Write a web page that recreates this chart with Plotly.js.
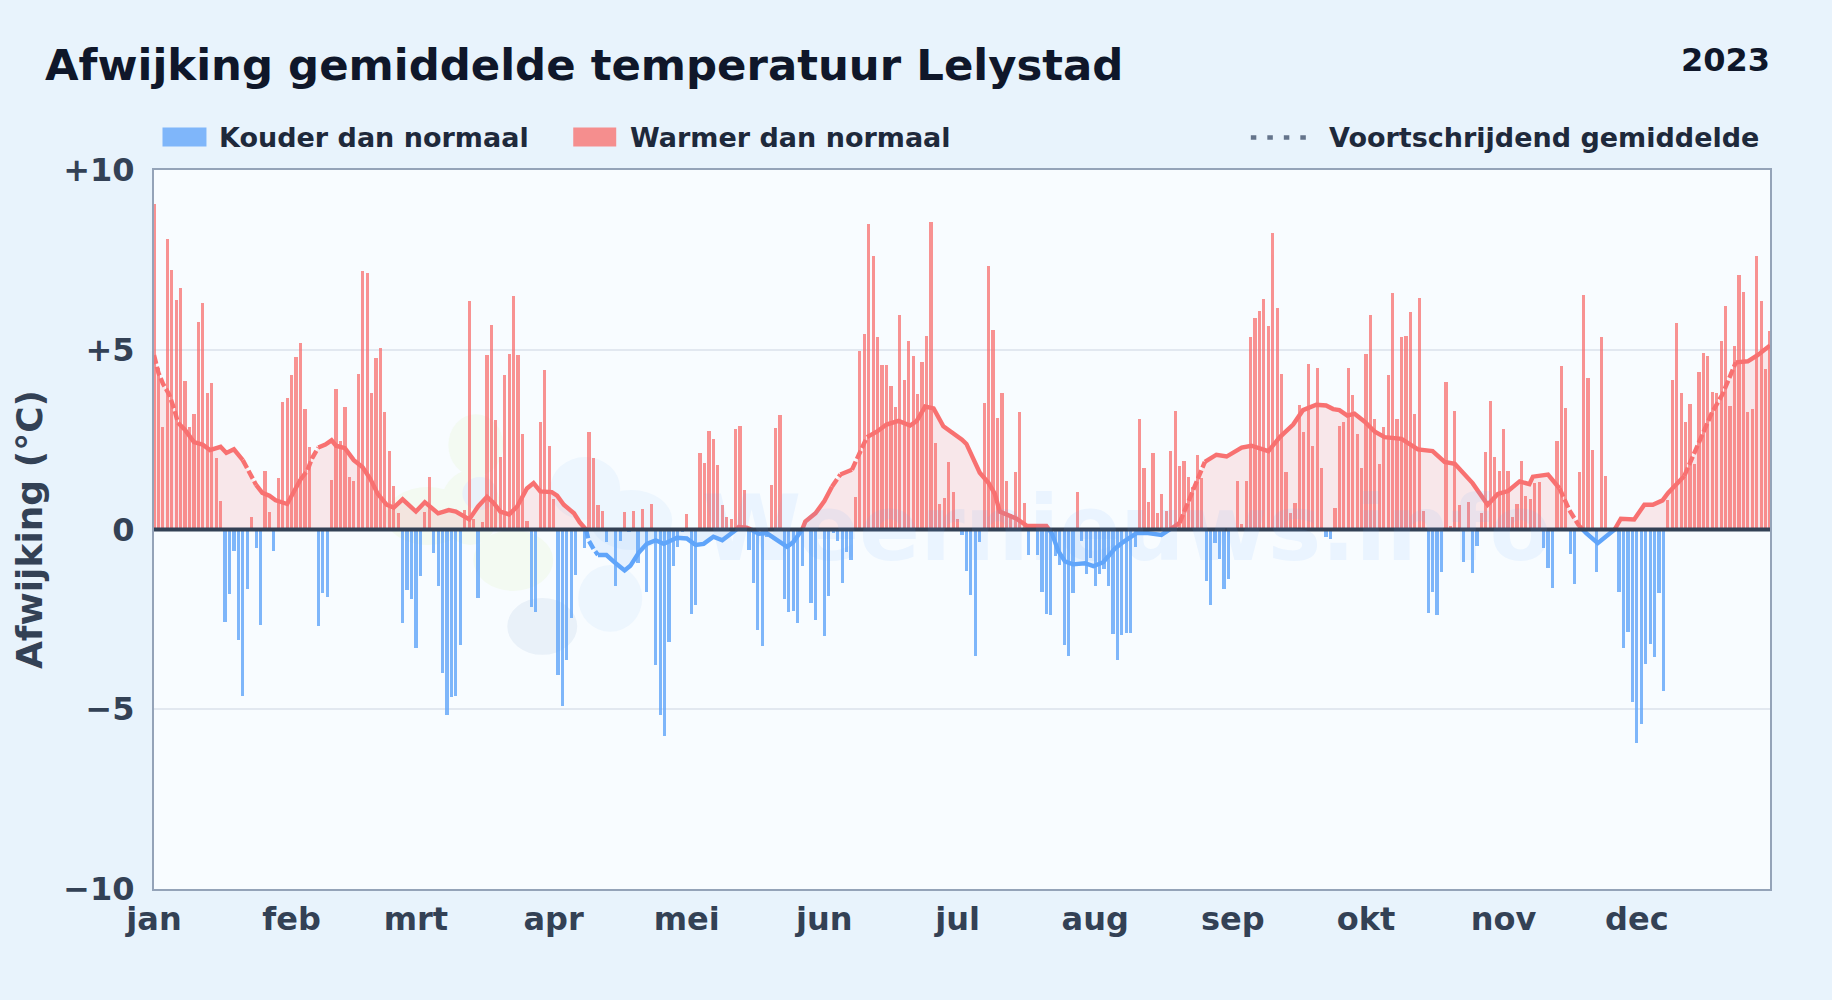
<!DOCTYPE html>
<html>
<head>
<meta charset="utf-8">
<script src="https://cdn.plot.ly/plotly-3.0.1.min.js"></script>
<style>html,body{margin:0;padding:0;background:#e8f3fc;overflow:hidden}#chart{width:1832px;height:1000px}</style>
</head>
<body>
<div id="chart"></div>
<script>
// Afwijking per dag (°C), dag 0 = 1 januari 2023
const janMrt = [9.05,4.5,2.85,8.07,7.23,6.38,6.73,4.13,2.85,3.22,5.76,6.3,3.8,4.08,2.0,0.8,-2.57,-1.8,-0.6,-3.07,-4.64,-1.65,0.36,-0.51,-2.65,1.63,0.48,-0.6,1.42,3.54,3.66,
 4.3,4.79,5.2,3.36,2.3,0,-2.68,-1.77,-1.87,1.39,3.91,2.47,3.4,1.45,1.36,4.33,7.2,7.13,3.8,4.77,5.05,3.27,2.19,1.22,0.45,-2.6,-1.69,-1.93,
 -3.29,-1.3,0.5,1.47,-0.66,-1.57,-3.98,-5.15,-4.67,-4.62,-3.22,0.54,6.35,0.3,-1.9,0.2,4.85,5.68,3.05,2.02,4.3,4.88,6.49,4.85,2.66,0.25,-2.15,-2.3,3.0,4.44,2.33];
const aprJun = [0.86,-4.04,-4.9,-3.62,-2.46,-1.27,-0.05,-0.51,2.7,2.0,0.69,0.52,-0.35,0,-1.58,-0.32,0.5,-0.07,0.52,-0.94,0.57,-1.73,0.71,-3.76,-5.17,-5.74,-3.12,-1.02,-0.5,-0.08,
 0.44,-2.35,-2.1,2.13,1.86,2.74,2.52,1.8,0.69,0.36,0.28,2.8,2.88,1.11,-0.57,-1.49,-2.79,-3.25,-0.2,1.25,2.83,3.19,-1.93,-2.3,-2.28,-2.59,-1.02,0,-2.05,-2.51,0,
 -2.97,-1.86,-0.1,-0.32,-1.49,-0.62,-0.85,0.91,4.96,5.43,8.51,7.62,5.35,4.57,4.57,3.98,3.4,5.98,4.16,5.23,4.82,3.76,4.65,5.38,8.56,2.41,0.71,0.89,1.88,1.04];
const julSep = [0.3,-0.15,-1.16,-1.83,-3.53,-0.35,3.51,7.32,5.54,3.11,3.8,1.36,0.44,1.6,3.27,0.74,-0.71,0,-0.71,-1.73,-2.35,-2.38,-0.74,-0.99,-3.21,-3.53,-1.78,1.03,-0.33,-1.24,-0.79,
 -1.58,-1.24,-1.09,-1.58,-2.9,-3.62,-2.93,-2.87,-2.87,-0.5,3.08,1.72,0.77,2.14,0.45,0.99,0.52,2.18,3.29,1.78,1.9,1.47,1.19,2.08,1.44,-1.44,-2.1,-0.38,-0.82,-1.65,-1.37,
 0,1.36,0.15,1.36,5.35,5.88,6.07,6.4,5.66,8.26,6.16,4.33,1.6,0.45,0.74,3.47,2.71,4.6,2.33,4.5,1.7,-0.2,-0.27,0.61,2.87,2.99];
const oktDec = [4.5,3.74,2.66,1.7,4.88,5.98,3.07,1.83,2.85,4.3,6.58,3.07,5.35,5.38,6.04,3.22,6.44,0.52,-2.33,-1.73,-2.38,-1.19,4.1,0.1,3.3,0.69,-0.89,0.77,-1.21,-0.45,0.45,
 2.16,3.57,2.02,1.63,2.8,1.63,0.34,0.72,1.91,0.94,0.86,1.3,1.33,-0.51,-1.07,-1.62,2.47,4.54,3.39,-0.69,-1.51,1.6,6.51,4.22,2.22,-1.17,5.35,1.5,0,
 0,-1.73,-3.29,-2.84,-4.81,-5.94,-5.4,-3.73,-3.18,-3.56,-1.76,-4.49,0.81,4.16,5.74,3.8,2.99,3.5,1.81,4.38,4.91,4.82,3.82,3.79,5.24,6.21,3.44,5.1,7.07,6.62,3.27,3.36,7.62,6.35,4.47,5.51];
const afwijking = [...janMrt, ...aprJun, ...julSep, ...oktDec];
const dagen = afwijking.map((_, i) => i);

const gemDag = [0,1,2,3.4,4.5,5.4,7,9,11,12.6,15,16.3,18,20,21.6,23,24.4,26,27.4,30,31,33,34.5,35.6,37,38.6,40,41,43,45,47,48.8,50.4,52.4,54,56,59,61,64,66.4,68,71,73,75,76.5,78,80,81.8,84,85.5,87,89.6,90.8,92.3,94.6,95.9,97.3,
 97.9,99,100,101.9,104,106,107.3,109.2,111,113,114.8,117.8,120,122,123.8,126,128,129.8,131.2,131.7,133.5,134.5,136.2,138,140.3,142.6,144,145.7,146,146.7,149,151,152.7,154.6,157.2,159,160.6,162.8,165,167.7,170.3,171.8,173.7,175.6,177.8,180,182,183,184.5,186,188,189.4,190.5,192.8,194.3,196.6,201,201.6,
 202.2,203.7,205.2,207,209.7,211.6,213.8,216.4,218.3,221.3,223.9,226.9,228.8,231,232.9,234.8,236.7,239.3,241.6,245,247.2,251,253.6,256.6,258.8,261.8,264,265.6,267,268.8,270.4,272.7,275,277.2,281,284.7,288,290.7,293,295.2,297,300.4,302.7,305,307.6,309.8,310.6,314,316.6,318.8,321,321.8,322.6,325.2,328.2,329,330.4,333.4,335.7,337.6,339.8,341,344.7,346.6,348.8,351,353.3,355.2,356.3,359,361.2,363.5,364];
const gemWaarde = [4.85,4.36,4.06,3.76,3.37,2.97,2.77,2.43,2.36,2.21,2.3,2.13,2.23,1.93,1.53,1.24,1.02,0.94,0.81,0.71,0.94,1.39,1.63,1.98,2.28,2.36,2.48,2.33,2.26,1.93,1.73,1.39,0.99,0.69,0.61,0.84,0.5,0.76,0.45,0.54,0.5,0.28,0.64,0.91,0.74,0.5,0.42,0.64,1.14,1.29,1.06,1.04,0.94,0.69,0.45,0.2,0,
 -0.3,-0.54,-0.71,-0.71,-0.94,-1.14,-1.01,-0.64,-0.4,-0.3,-0.4,-0.23,-0.25,-0.43,-0.4,-0.2,-0.3,-0.15,0,0.07,0.05,0,-0.12,-0.1,-0.3,-0.48,-0.35,-0.05,0,0.22,0.45,0.79,1.19,1.53,1.66,2.13,2.57,2.72,2.92,3.02,2.89,3.02,3.42,3.37,2.87,2.69,2.5,2.38,1.98,1.58,1.29,0.99,0.5,0.38,0.3,0.1,0.1,0,
 -0.1,-0.6,-0.89,-0.97,-0.94,-1.02,-0.91,-0.54,-0.35,-0.1,-0.1,-0.15,0,0.18,0.74,1.34,1.88,2.08,2.03,2.28,2.33,2.18,2.57,2.92,3.32,3.47,3.45,3.35,3.32,3.17,3.22,3.0,2.72,2.57,2.52,2.23,2.18,1.88,1.83,1.53,1.29,0.69,0.99,1.07,1.34,1.26,1.47,1.53,1.14,0.54,0.1,0,-0.1,-0.38,-0.1,0,0.3,0.28,0.69,0.69,0.81,1.01,1.49,2.03,2.67,3.27,3.76,4.36,4.65,4.68,4.85,5.1,5.12];
// Stukken van de lijn die in het origineel onderbroken zijn (dag van, dag tot)
const gebroken = [[0,5.4],[20,23],[33,37],[97.3,100],[152,154.6],[158,160],[231,236.7],[316.6,321],[344.7,356.3]];

const maandTekst = ['jan','feb','mrt','apr','mei','jun','jul','aug','sep','okt','nov','dec'];
const maandStart = [0,31,59,90,120,151,181,212,243,273,304,334];
const yTicks = [10,5,0,-5,-10];
const yTekst = ['+10','+5','0','−5','−10'];
const legendaTekst = ['Kouder dan normaal','Warmer dan normaal','Voortschrijdend gemiddelde'];
const titel = 'Afwijking gemiddelde temperatuur Lelystad';
const jaar = '2023';
const merk = 'Weernieuws.info';

const ROOD='#f87171', BLAUW='#60a5fa';
const P={l:153.5,r:1770.5,t:169.5,b:889.5};
const px=x=>(x-P.l)/(P.r-P.l), py=y=>(P.b-y)/(P.b-P.t);

const traces=[];
traces.push({type:'bar',x:dagen.filter(d=>afwijking[d]>0),y:afwijking.filter(v=>v>0),width:0.72,marker:{color:ROOD,line:{width:0}},opacity:0.76,showlegend:false,hoverinfo:'x+y'});
traces.push({type:'bar',x:dagen.filter(d=>afwijking[d]<0),y:afwijking.filter(v=>v<0),width:0.72,marker:{color:BLAUW,line:{width:0}},opacity:0.8,showlegend:false,hoverinfo:'x+y'});
// vlakken
traces.push({type:'scatter',mode:'none',x:gemDag,y:gemWaarde.map(v=>Math.max(v,0)),fill:'tozeroy',fillcolor:'rgba(248,113,113,0.15)',showlegend:false,hoverinfo:'skip'});
traces.push({type:'scatter',mode:'none',x:gemDag,y:gemWaarde.map(v=>Math.min(v,0)),fill:'tozeroy',fillcolor:'rgba(96,165,250,0.12)',showlegend:false,hoverinfo:'skip'});
// lijn, in stukken op teken en streepstijl
function sleutel(i){
  const m=(gemDag[i]+gemDag[i+1])/2, v=(gemWaarde[i]+gemWaarde[i+1])/2;
  return (v>=0?'w':'k')+(gebroken.some(g=>m>=g[0]&&m<=g[1])?'d':'s');
}
let start=0;
for(let i=0;i<gemDag.length-1;i++){
  const k=sleutel(i);
  if(i===gemDag.length-2||sleutel(i+1)!==k){
    traces.push({type:'scatter',mode:'lines',x:gemDag.slice(start,i+2),y:gemWaarde.slice(start,i+2),
      line:{color:k[0]==='w'?ROOD:BLAUW,width:4.4,shape:'linear',dash:k[1]==='d'?'9px,3px':'solid'},showlegend:false,hoverinfo:'skip'});
    start=i+1;
  }
}

function ell(x0,y0,x1,y1,c){return {type:'circle',layer:'below',xref:'paper',yref:'paper',x0:px(x0),x1:px(x1),y0:py(y1),y1:py(y0),fillcolor:c,line:{width:0}};}
const GROEN='#f3faf2', LICHTB='#edf6fe', DONKERB='#e9f1f9';
const shapes=[
  ell(448,414,503,476,GROEN), ell(385,487,470,545,GROEN), ell(440,470,500,545,GROEN), ell(473,530,553,591,GROEN),
  ell(550,457,620,520,LICHTB), ell(590,490,672,550,LICHTB), ell(578,565,642,632,LICHTB),
  ell(507,598,577,655,DONKERB), ell(462,477,497,510,DONKERB),
  // nullijn boven de staven
  {type:'line',layer:'above',xref:'paper',yref:'y',x0:0,x1:1,y0:0,y1:0,line:{color:'#334155',width:4}},
  // legenda
  {type:'rect',xref:'paper',yref:'paper',x0:px(162),x1:px(206),y0:py(146),y1:py(127),fillcolor:'#7fb6fa',line:{width:0}},
  {type:'rect',xref:'paper',yref:'paper',x0:px(573),x1:px(616),y0:py(146),y1:py(127),fillcolor:'#f58e8e',line:{width:0}},
  {type:'line',xref:'paper',yref:'paper',x0:px(1251),x1:px(1308),y0:py(137),y1:py(137),line:{color:'#64748b',width:4.5,dash:'5.5px,11px'}}
];
const F='"DejaVu Sans",sans-serif';
function ann(text,x,y,size,color,anchor){return {text,xref:'paper',yref:'paper',x:px(x),y:py(y),xanchor:anchor||'left',yanchor:'middle',showarrow:false,font:{family:F,size,color,weight:700}};}
const annotations=[
  ann(merk,1127,528,90,'rgba(96,165,250,0.09)','center'),
  ann(jaar,1773,59,32,'#0f172a','right'),
  ann(legendaTekst[0],217,137,27,'#1e293b'),
  ann(legendaTekst[1],628,137,27,'#1e293b'),
  ann(legendaTekst[2],1327,137,27,'#1e293b')
];
const ax={showline:true,mirror:true,linecolor:'#94a3b8',linewidth:2};
const layout={
  width:1832,height:1000,margin:{l:P.l,r:1832-P.r,t:P.t,b:1000-P.b,pad:0},
  paper_bgcolor:'#e8f3fc',plot_bgcolor:'#f8fcff',barmode:'overlay',bargap:0,
  title:{text:titel,x:45/1832,xanchor:'left',xref:'container',y:1-65/1000,yanchor:'middle',yref:'container',font:{family:F,size:43.4,color:'#0f172a',weight:700}},
  xaxis:{...ax,range:[0,364],tickmode:'array',tickvals:maandStart,ticktext:maandTekst,showgrid:false,zeroline:false,ticks:'outside',ticklen:1,tickcolor:'rgba(0,0,0,0)',tickfont:{family:F,size:32,color:'#334155',weight:700}},
  yaxis:{...ax,range:[-10,10],tickmode:'array',tickvals:yTicks,ticktext:yTekst,showgrid:true,gridcolor:'#e2e8f0',gridwidth:1.5,zeroline:false,ticks:'outside',ticklen:11,tickcolor:'rgba(0,0,0,0)',tickfont:{family:F,size:32,color:'#334155',weight:700},
    title:{text:'Afwijking (°C)',standoff:10,font:{family:F,size:36,color:'#334155',weight:700}}},
  shapes,annotations,showlegend:false
};
Plotly.newPlot('chart',traces,layout,{displayModeBar:false,responsive:false});
</script>
</body>
</html>
